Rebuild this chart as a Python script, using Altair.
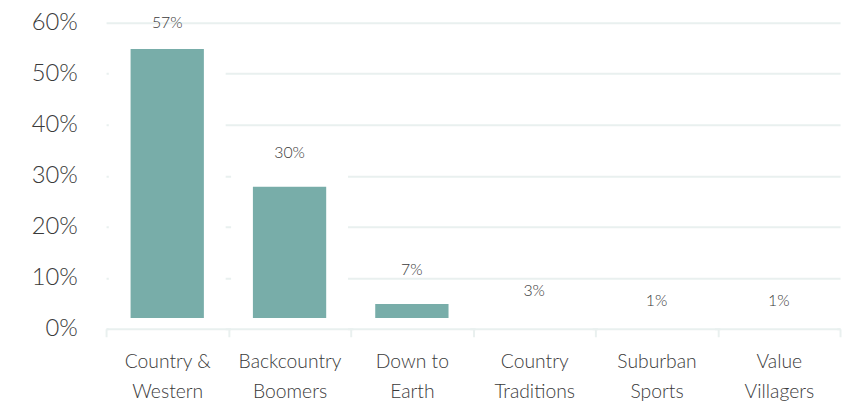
import altair as alt
import pandas as pd

categories = ["Country &\nWestern", "Backcountry\nBoomers", "Down to\nEarth",
              "Country\nTraditions", "Suburban\nSports", "Value\nVillagers"]
shares = [0.57, 0.30, 0.07, 0.03, 0.01, 0.01]
y_ticks = [0, 0.1, 0.2, 0.3, 0.4, 0.5, 0.6]

df = pd.DataFrame({"segment": categories, "share": shares})

FONT = "Lato"
TEXT = "#3a3a3a"
LIGHT = "#e9f0ef"

x_enc = alt.X("segment:N", sort=categories, title=None,
              scale=alt.Scale(paddingInner=0, paddingOuter=0),
              axis=alt.Axis(labelExpr="split(datum.label, '\\n')", labelAngle=0,
                            labelFont=FONT, labelFontSize=19.5, labelColor=TEXT,
                            labelFontWeight=300,
                            labelLineHeight=30, labelPadding=16,
                            tickBand="extent", tickSize=8, tickColor=LIGHT, tickWidth=2,
                            domainColor=LIGHT, domainWidth=2, zindex=1))

y_scale = alt.Scale(domain=[0, 0.6], clamp=True, nice=False)

bars = alt.Chart(df).mark_bar(width=96, color="#78ada9", stroke="white",
                              strokeWidth=22).encode(
    x=x_enc,
    y=alt.Y("share:Q", scale=y_scale, title=None,
            axis=alt.Axis(values=y_ticks, format=".0%", domain=False, ticks=False,
                          labelFont=FONT, labelFontSize=24, labelColor=TEXT,
                          labelFontWeight=300,
                          labelPadding=29, gridColor=LIGHT, gridWidth=2)),
)

labels = alt.Chart(df).transform_calculate(
    pos="datum.share + 0.045"
).mark_text(font=FONT, fontSize=16, fontWeight=300, color=TEXT,
            baseline="middle").encode(
    x=alt.X("segment:N", sort=categories),
    y=alt.Y("pos:Q", scale=y_scale),
    text=alt.Text("share:Q", format=".0%"),
)

chart = alt.layer(bars, labels).properties(
    width=741, height=309,
    autosize=alt.AutoSizeParams(type="none"),
    padding={"left": 99, "top": 13, "right": 3, "bottom": 76},
).configure_view(stroke=None)

chart.save("out.html", embed_options={"renderer": "svg", "actions": False})
